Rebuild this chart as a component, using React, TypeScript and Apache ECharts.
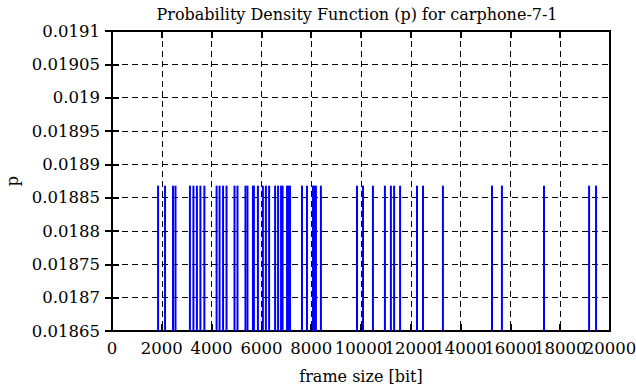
import React, { useEffect, useRef } from "react";
import * as echarts from "echarts";

const frameSizes: number[] = [
  1850, 2130, 2450, 2550, 3130, 3270, 3410, 3550, 3710, 4200, 4320, 4460, 4600,
  4920, 5040, 5360, 5440, 5660, 5700, 5860, 6060, 6180, 6310, 6550, 6670, 6790,
  6850, 7030, 7090, 7150, 7630, 7830, 8070, 8130, 8190, 8390, 9840, 10080,
  10480, 10960, 11200, 11330, 11570, 12250, 12490, 13290, 15260, 15660, 17350,
  19160, 19440,
];
const probability = 0.018868;
const xTicks = { min: 0, max: 20000, interval: 2000 };
const yTicks = { min: 0.01865, max: 0.0191, interval: 0.00005 };

const FONT = "DejaVu Serif";
const TICK_FS = 16.5;

export default function App() {
  const ref = useRef<HTMLDivElement>(null);
  useEffect(() => {
    document.body.style.margin = "0";
    const chart = echarts.init(ref.current!, null, { renderer: "svg" });
    const data = frameSizes.map((s) => [s, probability]);
    const fmtY = (v: number) => parseFloat(v.toFixed(6)).toString();
    // two label layers so overlapping neighbour labels are not dropped
    const fmtXEven = (v: number) => {
      const i = Math.round(v / xTicks.interval);
      return i % 2 === 0 ? String(Math.round(v)) : "";
    };
    const fmtXOdd = (v: number) => {
      const i = Math.round(v / xTicks.interval);
      return i % 2 === 1 ? String(Math.round(v)) : "";
    };
    const labelBase = {
      fontFamily: FONT,
      fontSize: TICK_FS,
      color: "#000",
      margin: 9,
      hideOverlap: false,
      showMaxLabel: true,
      showMinLabel: true,
    };
    chart.setOption({
      animation: false,
      backgroundColor: "#fff",
      title: {
        text: "Probability Density Function (p) for carphone-7-1",
        left: 352,
        top: 1,
        textAlign: "center",
        textStyle: { fontFamily: FONT, fontSize: 16, fontWeight: "normal", color: "#000" },
      },
      grid: {
        left: 112,
        top: 31,
        width: 498,
        height: 300,
        show: true,
        borderColor: "#000",
        borderWidth: 2,
        backgroundColor: "transparent",
        containLabel: false,
        outerBoundsMode: "none",
      },
      xAxis: [
        {
          type: "value",
          position: "bottom",
          min: xTicks.min,
          max: xTicks.max,
          interval: xTicks.interval,
          name: "frame size [bit]",
          nameLocation: "middle",
          nameGap: 37,
          nameTextStyle: { fontFamily: FONT, fontSize: 16, color: "#000" },
          axisLine: { show: true, lineStyle: { color: "#000", width: 2 } },
          axisTick: { show: true, inside: true, length: 7, lineStyle: { color: "#000", width: 2 } },
          axisLabel: { ...labelBase, formatter: fmtXEven },
          splitLine: { show: true, lineStyle: { color: "#000", width: 1, type: [6, 4] } },
        },
        {
          type: "value",
          position: "top",
          min: xTicks.min,
          max: xTicks.max,
          interval: xTicks.interval,
          axisLine: { show: true, lineStyle: { color: "#000", width: 2 } },
          axisTick: { show: true, inside: true, length: 7, lineStyle: { color: "#000", width: 2 } },
          axisLabel: { show: false },
          splitLine: { show: false },
        },
        {
          type: "value",
          position: "bottom",
          offset: 0,
          min: xTicks.min,
          max: xTicks.max,
          interval: xTicks.interval,
          axisLine: { show: false },
          axisTick: { show: false },
          axisLabel: { ...labelBase, formatter: fmtXOdd },
          splitLine: { show: false },
        },
      ],
      yAxis: [
        {
          type: "value",
          position: "left",
          min: yTicks.min,
          max: yTicks.max,
          interval: yTicks.interval,
          name: "p",
          nameLocation: "middle",
          nameGap: 91,
          nameRotate: 90,
          nameTextStyle: { fontFamily: FONT, fontSize: 16, color: "#000" },
          axisLine: { show: true, lineStyle: { color: "#000", width: 2 } },
          axisTick: { show: true, inside: true, length: 7, lineStyle: { color: "#000", width: 2 } },
          axisLabel: {
            fontFamily: FONT,
            fontSize: TICK_FS,
            color: "#000",
            margin: 12,
            formatter: fmtY,
          },
          splitLine: { show: true, lineStyle: { color: "#000", width: 1, type: [6, 4] } },
        },
        {
          type: "value",
          position: "right",
          min: yTicks.min,
          max: yTicks.max,
          interval: yTicks.interval,
          axisLine: { show: true, lineStyle: { color: "#000", width: 2 } },
          axisTick: { show: true, inside: true, length: 7, lineStyle: { color: "#000", width: 2 } },
          axisLabel: { show: false },
          splitLine: { show: false },
        },
      ],
      series: [
        {
          type: "custom",
          xAxisIndex: 0,
          yAxisIndex: 0,
          clip: true,
          data,
          renderItem: (params: any, api: any) => {
            const x = api.value(0);
            const y = api.value(1);
            const top = api.coord([x, y]);
            const bottom = api.coord([x, yTicks.min]);
            return {
              type: "line",
              shape: { x1: top[0], y1: top[1], x2: bottom[0], y2: bottom[1] },
              style: { stroke: "#0000ff", lineWidth: 2 },
            };
          },
        },
      ],
    });
    return () => chart.dispose();
  }, []);
  return <div ref={ref} style={{ width: 636, height: 387 }} />;
}
